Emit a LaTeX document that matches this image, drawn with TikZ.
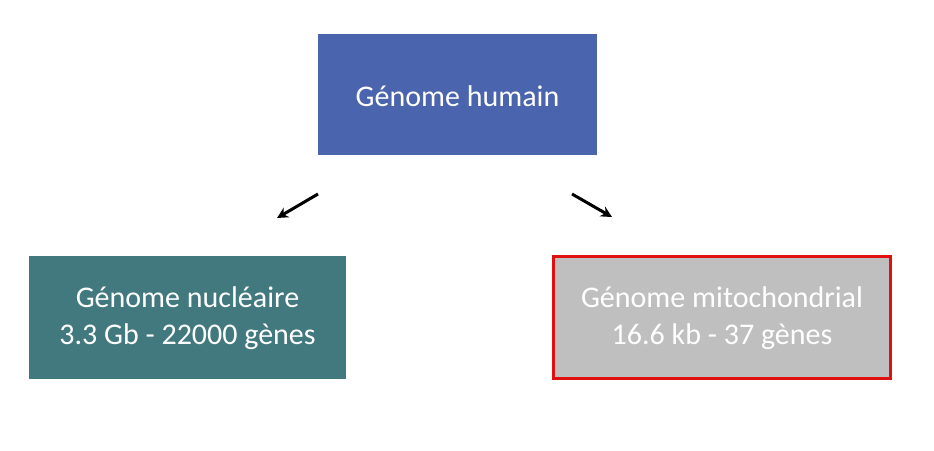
\documentclass[tikz,border=0pt]{standalone}
\usepackage{fontspec}
\setmainfont{Carlito}
\definecolor{topblue}{HTML}{4A64AD}
\definecolor{teal}{HTML}{41797F}
\definecolor{boxgray}{HTML}{BFBFBF}
\definecolor{redline}{HTML}{E01010}
\begin{document}
\begin{tikzpicture}[x=1pt,y=-1pt,
  box/.style={draw=none,inner sep=0pt,text=white,align=center,font=\fontsize{30}{37}\selectfont},
  arr/.style={-{Stealth[length=11pt,width=11pt]},line width=3pt,black}]
\usetikzlibrary{arrows.meta}
\useasboundingbox (0,0) rectangle (934,450);
\fill[white] (0,0) rectangle (934,450);
\fill[topblue] (318,34) rectangle (597,155);
\node[box] (top) at (457.5,96) {Génome humain};
\fill[teal] (29,256) rectangle (346,379);
\node[box] (left) at (187.5,318) {Génome nucléaire\\3.3 Gb - 22000 gènes};
\fill[boxgray] (553.5,256.5) rectangle (890.5,378.5);
\draw[redline,line width=3pt] (553.5,256.5) rectangle (890.5,378.5);
\node[box] (right) at (722,318) {Génome mitochondrial\\16.6 kb - 37 gènes};
\coordinate (a1) at (318,194);
\coordinate (a2) at (277,218);
\coordinate (b1) at (572,194);
\coordinate (b2) at (612,217);
\draw[arr] (a1) -- (a2);
\draw[arr] (b1) -- (b2);
\end{tikzpicture}
\end{document}
